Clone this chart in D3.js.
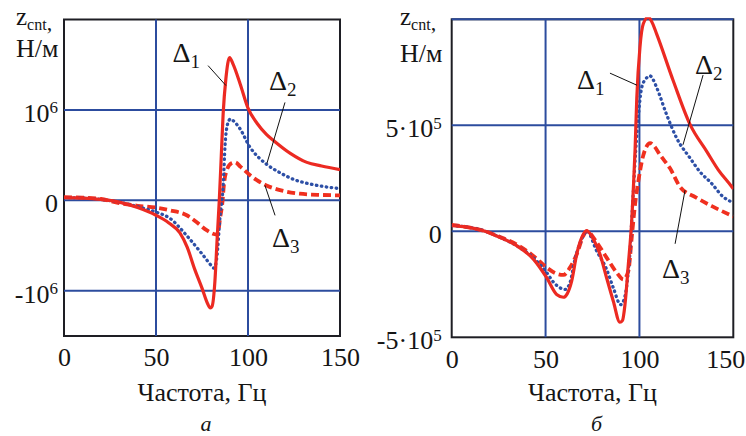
<!DOCTYPE html>
<html>
  <head>
    <meta charset="UTF-8">
    <style>
      body {
        margin: 0;
        background: #fff;
      }

      svg text {
        fill: #151515;
        font-family: "Liberation Serif", "DejaVu Serif", serif;
      }

      .tick text {
        font-size: 26px;
      }

      .grid line {
        stroke: #2c4c9e;
        stroke-width: 2;
      }

      .frame {
        fill: none;
        stroke: #1e1e24;
        stroke-width: 2;
      }

      .leader {
        stroke: #111;
        stroke-width: 1;
      }
    </style>
    <script src="https://d3js.org/d3.v7.min.js"></script>
  </head>

  <body>
    <svg id="chart" width="746" height="436"></svg>

    <script type="text/javascript">
      const freqTicks = [0, 50, 100, 150]

      const yTicksA = [-1e6, 0, 1e6]
      const yTickLabelsA = [['-10', '6'], ['0', ''], ['10', '6']]
      const yTicksB = [-5e5, 0, 5e5, 1e6]
      const yTickLabelsB = [['-5·10', '5'], ['0', ''], ['5·10', '5'], ['', '']]

      // panel а: [frequency, z]
      const a1 = [[0, 3e4], [10, 2.5e4], [20, 1e4], [30, -2e4], [40, -8e4], [50, -1.65e5],
        [57, -2.5e5], [63, -3.6e5], [67, -5.2e5], [71, -7.6e5], [75, -9.7e5], [78, -1.14e6],
        [79.5, -1.19e6], [80.5, -1.17e6], [82, -9e5], [83.3, -4e5], [84.4, 0], [85.5, 5e5],
        [86.5, 9.6e5], [88, 1.35e6], [90, 1.58e6], [92, 1.5e6], [95.7, 1.29e6], [100, 1.02e6],
        [105, 8.5e5], [110, 7.3e5], [114, 6.6e5], [123, 5.2e5], [132, 4.2e5], [140, 3.8e5], [150, 3.4e5]]
      const a2 = [[0, 3e4], [10, 2.5e4], [20, 1e4], [30, -2e4], [40, -7e4], [50, -1.3e5],
        [57.6, -2e5], [66.7, -3.9e5], [75.7, -6.1e5], [80, -7.2e5], [81.5, -7.5e5], [83, -6.4e5],
        [84.8, -1.8e5], [86.6, 2e5], [87.5, 6e5], [89, 8.5e5], [90.5, 9e5], [92, 8.8e5],
        [95.7, 7.9e5], [101, 5.9e5], [106, 4.7e5], [110, 4e5], [117, 3.1e5], [125, 2.3e5],
        [134, 1.8e5], [142, 1.5e5], [150, 1.3e5]]
      const a3 = [[0, 3.5e4], [10, 3e4], [20, 1.5e4], [30, -3e4], [40, -6e4], [50, -8e4],
        [57.6, -1.1e5], [66.7, -1.65e5], [72, -2.4e5], [77.5, -3.3e5], [82, -3.75e5], [83.5, -3.8e5],
        [84.8, -2e5], [86.2, 0], [86.8, 1.5e5], [88.4, 3.3e5], [91, 4.1e5], [93, 4.2e5], [96, 3.7e5],
        [101, 2.8e5], [105, 2.2e5], [110, 1.65e5], [118, 1.1e5], [128, 7.4e4], [140, 6e4], [150, 5.5e4]]

      // panel б: [frequency, z]
      const b1 = [[0, 2.7e4], [8, 2e4], [16.9, 3e3], [25.8, -2.9e4], [34.6, -6.8e4], [43.5, -1.31e5],
        [50.6, -2.19e5], [55.9, -2.98e5], [59.5, -3.11e5], [61.5, -2.95e5], [63.9, -2.35e5],
        [66.6, -1.08e5], [69.3, -2.9e4], [71.9, 3e3], [75.4, -3.6e4], [79, -1.08e5], [82.5, -2.19e5],
        [86.1, -3.3e5], [89.6, -4.29e5], [91, -4.2e5], [92.3, -3.46e5], [94.1, -1.55e5], [95.9, 5.1e4],
        [96.8, 2.1e5], [97.7, 3.9e5], [98.6, 6.3e5], [100.3, 8.7e5], [102.1, 9.8e5], [104.7, 1.01e6],
        [106.5, 9.9e5], [109.2, 9.3e5], [118, 7.1e5], [127, 5.03e5], [135.9, 3.76e5], [142, 2.9e5],
        [149.2, 2.1e5], [150, 2e5]]
      const b2 = [[0, 2.7e4], [8, 2e4], [16.9, 3e3], [25.8, -2.9e4], [34.6, -6.8e4], [43.5, -1.25e5],
        [50.6, -1.95e5], [54.2, -2.4e5], [57.8, -2.67e5], [60.4, -2.74e5], [63, -2.43e5],
        [65.7, -1.31e5], [69.3, -3.6e4], [72, 0], [77.2, -9.2e4], [82.5, -1.79e5], [86.1, -2.67e5],
        [90, -3.46e5], [92.3, -3.06e5], [94.1, -1.87e5], [95, -9.2e4], [95.9, 5.1e4], [96.8, 1.94e5],
        [98, 3.8e5], [99.5, 5.5e5], [101.2, 6.78e5], [103.5, 7.2e5], [105.7, 7.33e5], [107, 7.2e5],
        [109.2, 6.78e5], [114.5, 5.5e5], [119.8, 4.4e5], [127, 3.45e5], [132.3, 2.8e5], [138, 2.3e5],
        [144.7, 1.62e5], [150, 1.35e5]]
      const b3 = [[0, 3e4], [8, 2e4], [16.9, 3e3], [25.8, -2.7e4], [34.6, -6.2e4], [43.5, -1.16e5],
        [50.6, -1.71e5], [55.9, -2e5], [59.5, -2.06e5], [63, -1.71e5], [66.6, -1.08e5], [70.2, -2e4],
        [72, 0], [77.2, -5.2e4], [82.5, -1.24e5], [87.9, -1.95e5], [91.5, -2.27e5], [94.1, -1.87e5],
        [95.9, -2.9e4], [97.7, 1.3e5], [99.5, 2.41e5], [102.1, 3.6e5], [105.7, 4.16e5], [108, 4e5],
        [111, 3.6e5], [116.3, 2.97e5], [121.6, 2.1e5], [130, 1.6e5], [139.4, 1.15e5], [150, 7e4]]

      // Δ labels: [label x, label baseline, leader from x, y, leader to x, y] in data units
      const notesA = [['1', 59, 1.53e6, 78.3, 1.49e6, 88, 1.27e6],
        ['2', 111.4, 1.215e6, 120.1, 1.083e6, 110.3, 4.1e5],
        ['3', 113, -5.2e5, 109.2, 1.66e5, 114.7, -1.66e5]]
      const notesB = [['1', 66.8, 6.7e5, 84.3, 7.46e5, 98.7, 6.89e5],
        ['2', 129.6, 7.41e5, 133.9, 7.37e5, 123.2, 4.08e5],
        ['3', 112, -2.2e5, 124.3, 1.94e5, 119, -5.9e4]]

      let svg = d3.select('#chart')

      function drawPanel(cfg) {
        let {id, left, right, top, bottom, yDomain, yTicks, yLabels, series, notes, caption, titleX, titleY} = cfg
        let x = d3.scaleLinear().domain([0, 150]).range([left, right])
        let y = d3.scaleLinear().domain(yDomain).range([bottom, top])

        svg.append('clipPath').attr('id', 'clip-' + id)
          .append('rect')
          .attr('x', left).attr('y', top - 2)
          .attr('width', right - left).attr('height', bottom - top + 2)

        // frame
        svg.append('rect')
          .attr('class', 'frame')
          .attr('x', left).attr('y', top)
          .attr('width', right - left).attr('height', bottom - top)

        // grid
        svg.append('g')
          .attr('class', 'grid')
          .selectAll('line')
          .data([50, 100])
          .enter().append('line')
          .attr('x1', d => x(d)).attr('x2', d => x(d))
          .attr('y1', top).attr('y2', bottom)
        svg.append('g')
          .attr('class', 'grid')
          .selectAll('line')
          .data(yTicks.filter(d => d > yDomain[0]))
          .enter().append('line')
          .attr('x1', left).attr('x2', right)
          .attr('y1', d => y(d)).attr('y2', d => y(d))

        // axes labels
        let axisX = d3.axisBottom(x).tickValues(freqTicks).tickSize(0).tickPadding(12)
        let gx = svg.append('g').attr('transform', `translate(0, ${bottom})`).call(axisX)
        gx.select('.domain').remove()
        gx.attr('font-family', null)
        // last label is pulled in so it stays inside the page
        gx.selectAll('.tick text')
          .attr('dx', d => (d === 150 && right > 700) ? -8 : 0)

        let axisY = d3.axisLeft(y).tickValues(yTicks).tickSize(0).tickPadding(left > 300 ? 10 : 6)
          .tickFormat('')
        let gy = svg.append('g').attr('transform', `translate(${left}, 0)`).call(axisY)
        gy.select('.domain').remove()
        gy.attr('font-family', null)
        gy.selectAll('.tick text')
          .attr('dy', '0.44em')
          .each(function (d, i) {
            let t = d3.select(this)
            t.append('tspan').text(yLabels[i][0])
            if (yLabels[i][1]) {
              t.append('tspan').attr('dy', '-0.5em').attr('font-size', '17px').text(yLabels[i][1])
            }
          })

        // curves
        let line = d3.line()
          .x(d => x(d[0]))
          .y(d => y(d[1]))
          .curve(d3.curveMonotoneX)

        let styles = [
          {color: '#ec2a22', width: 3.2, dash: null, cap: 'butt'},
          {color: '#2d4fa6', width: 3.3, dash: '0.5 4.5', cap: 'round'},
          {color: '#f0301f', width: 3.8, dash: '8 4', cap: 'butt'}
        ]
        let curves = svg.append('g').attr('clip-path', `url(#clip-${id})`)
        series.slice().reverse().forEach((s, k) => {
          let st = styles[series.length - 1 - k]
          curves.append('path')
            .datum(s)
            .attr('d', line)
            .attr('fill', 'none')
            .attr('stroke', st.color)
            .attr('stroke-width', st.width)
            .attr('stroke-dasharray', st.dash)
            .attr('stroke-linecap', st.cap)
            .attr('stroke-linejoin', 'round')
        })

        // Δ annotations
        notes.forEach(n => {
          svg.append('line')
            .attr('class', 'leader')
            .attr('x1', x(n[3])).attr('y1', y(n[4]))
            .attr('x2', x(n[5])).attr('y2', y(n[6]))
          let t = svg.append('text')
            .attr('x', x(n[1])).attr('y', y(n[2]))
            .attr('font-size', '28px')
          t.append('tspan').text('Δ')
          t.append('tspan').attr('dy', '6').attr('font-size', '19px').text(n[0])
        })

        // y title
        let zt = svg.append('text')
          .attr('x', titleX).attr('y', titleY)
          .attr('font-size', '25px')
        zt.append('tspan').text('z')
        zt.append('tspan').attr('dy', '5').attr('font-size', '16px').text('cnt')
        zt.append('tspan').attr('font-size', '22px').text(',')
        svg.append('text')
          .attr('x', titleX).attr('y', titleY + (left > 300 ? 37 : 32))
          .attr('font-size', '26px')
          .text('Н/м')

        // x title and caption
        let mid = (left + right) / 2
        svg.append('text')
          .attr('x', mid).attr('y', 401)
          .attr('text-anchor', 'middle')
          .attr('font-size', '26px')
          .text('Частота, Гц')
        svg.append('text')
          .attr('x', mid + 4).attr('y', 431)
          .attr('text-anchor', 'middle')
          .attr('font-size', '22px')
          .attr('font-style', 'italic')
          .text(caption)
      }

      drawPanel({
        id: 'a', left: 64, right: 340, top: 19.5, bottom: 336,
        yDomain: [-1.5e6, 2e6], yTicks: yTicksA, yLabels: yTickLabelsA,
        series: [a1, a2, a3], notes: notesA, caption: 'а', titleX: 16, titleY: 25
      })
      drawPanel({
        id: 'b', left: 451.7, right: 733.3, top: 19.3, bottom: 337.3,
        yDomain: [-5e5, 1e6], yTicks: yTicksB, yLabels: yTickLabelsB,
        series: [b1, b2, b3], notes: notesB, caption: 'б', titleX: 400, titleY: 25
      })
    </script>
  </body>
</html>
